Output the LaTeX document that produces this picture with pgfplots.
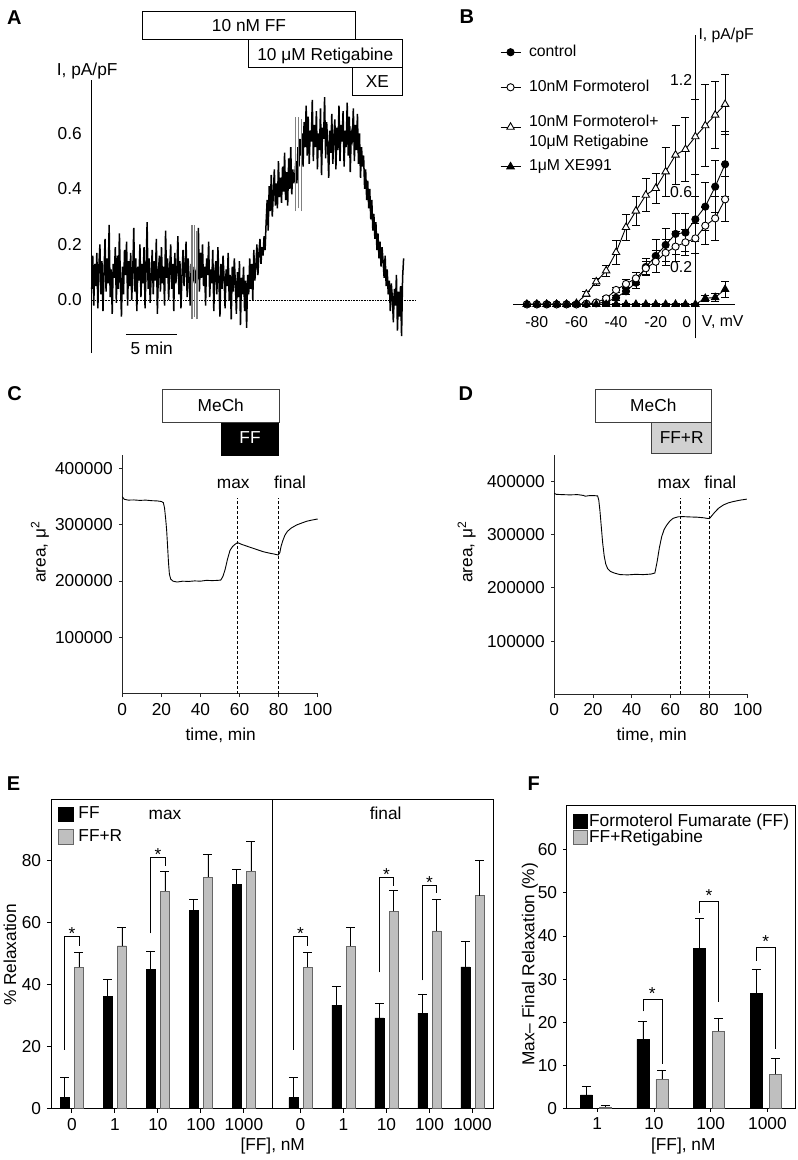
\documentclass[border=0pt]{standalone}
\usepackage{fontspec}
\setmainfont{Liberation Sans}
\usepackage{pgfplots}
\pgfplotsset{compat=1.18}

\newcommand{\fsA}{\fontsize{17.3}{20.5}\selectfont}
\newcommand{\fsB}{\fontsize{15.8}{20}\selectfont}
\newcommand{\fsL}{\fontsize{20}{24}\selectfont\bfseries}

\tikzset{bracket/.style={line width=0.9pt}}
\pgfplotsset{
  every axis/.append style={scale only axis, anchor=south west, clip=false,
    /pgf/number format/assume math mode=true},
  ebar/.style={error bars/y dir=plus, error bars/y explicit,
    error bars/error bar style={line width=0.9pt, black},
    error bars/error mark options={rotate=90, line width=0.9pt, black, mark size=4.5pt}},
  sqlegend/.style={legend cell align=left,
    legend style={draw=none, fill=none, inner sep=0pt, nodes={inner sep=0pt}, anchor=north west},
    legend image code/.code={\draw[##1, line width=0.8pt] (0pt,-7.2pt) rectangle (15pt,7.2pt); \path (#1,0pt);}},
}

\begin{document}
\fsA
\begin{tikzpicture}
\useasboundingbox (0pt,0pt) rectangle (798pt,-1160pt);

% ================= A =================
\node[anchor=base west, inner sep=0pt, font=\fsL] at (7pt,-24pt) {A};
\draw[line width=0.8pt] (142.7pt,-11pt) rectangle (355.3pt,-39pt);
\draw[line width=0.8pt] (248.3pt,-39pt) rectangle (402.3pt,-67.3pt);
\draw[line width=0.8pt] (352.3pt,-67.3pt) rectangle (402.3pt,-95pt);
\node[anchor=base] at (249pt,-31.7pt) {10 nM FF};
\node[anchor=base] at (325.3pt,-60pt) {10 μM Retigabine};
\node[anchor=base] at (377.3pt,-87.3pt) {XE};
\node[anchor=base west, inner sep=0pt] at (56.7pt,-75.4pt) {I, pA/pF};
\node[anchor=base, inner sep=0pt] at (151.7pt,-354pt) {5 min};

\begin{axis}[at={(91.7pt,-353pt)}, width=323.3pt, height=273pt,
  xmin=0, xmax=31.51, ymin=-0.1908, ymax=0.7919,
  axis x line=none, axis y line*=left, axis line style={line width=0.8pt},
  ytick={0,0.2,0.4,0.6}, major tick length=0pt,
  yticklabel style={xshift=-4pt, /pgf/number format/fixed, /pgf/number format/fixed zerofill,
    /pgf/number format/precision=1}]
\addplot[black, densely dotted, line width=0.6pt] coordinates {(0,0) (31.51,0)};
\addplot[black, line width=1.5pt] table[row sep=\\, header=false, x expr=\coordindex*0.1, y index=0] {
0.04\\0.16\\-0.02\\0.13\\0.05\\0.17\\-0.03\\0.12\\0.20\\0.02\\
0.14\\-0.04\\0.10\\0.22\\0.03\\0.15\\0.06\\0.27\\0.01\\0.11\\
-0.05\\0.13\\0.08\\0.19\\-0.01\\0.16\\0.04\\0.24\\0.07\\-0.06\\
0.12\\0.02\\0.18\\0.09\\0.21\\-0.02\\0.14\\0.05\\0.17\\0.00\\
0.10\\0.26\\0.03\\0.15\\-0.04\\0.12\\0.07\\0.20\\0.01\\0.13\\
0.06\\0.19\\-0.03\\0.11\\0.28\\0.04\\0.15\\-0.01\\0.09\\0.18\\
0.02\\0.14\\0.07\\0.22\\-0.05\\0.10\\0.16\\0.03\\0.19\\0.06\\
0.12\\-0.02\\0.25\\0.08\\0.15\\0.00\\0.11\\0.20\\0.04\\0.13\\
-0.04\\0.17\\0.06\\0.10\\0.23\\0.02\\0.14\\-0.03\\0.09\\0.18\\
0.05\\0.12\\0.21\\0.01\\0.15\\0.07\\-0.02\\0.13\\0.10\\0.08\\
0.12\\0.06\\0.10\\0.09\\0.26\\0.03\\0.17\\0.08\\0.20\\0.05\\
0.12\\-0.02\\0.15\\0.09\\0.21\\0.01\\0.11\\0.06\\0.18\\-0.04\\
0.10\\0.14\\0.02\\0.19\\0.07\\-0.06\\0.13\\0.04\\0.16\\0.08\\
-0.03\\0.11\\0.05\\0.17\\0.00\\0.09\\-0.07\\0.12\\0.03\\0.15\\
0.06\\-0.05\\0.10\\0.01\\0.14\\-0.09\\0.08\\0.02\\0.12\\-0.04\\
0.07\\-0.10\\0.09\\0.02\\0.15\\0.04\\0.13\\0.00\\0.18\\0.07\\
0.12\\0.20\\0.09\\0.17\\0.22\\0.13\\0.19\\0.16\\0.23\\0.18\\
0.28\\0.36\\0.25\\0.41\\0.32\\0.45\\0.30\\0.38\\0.47\\0.34\\
0.42\\0.33\\0.50\\0.37\\0.44\\0.35\\0.48\\0.39\\0.53\\0.36\\
0.46\\0.34\\0.51\\0.40\\0.55\\0.38\\0.47\\0.42\\0.45\\0.50\\
0.42\\0.55\\0.48\\0.58\\0.52\\0.60\\0.48\\0.64\\0.55\\0.70\\
0.52\\0.66\\0.49\\0.61\\0.57\\0.72\\0.50\\0.63\\0.55\\0.68\\
0.47\\0.60\\0.54\\0.69\\0.45\\0.62\\0.58\\0.73\\0.51\\0.64\\
0.56\\0.44\\0.61\\0.53\\0.67\\0.49\\0.59\\0.65\\0.47\\0.62\\
0.54\\0.70\\0.50\\0.63\\0.57\\0.68\\0.48\\0.61\\0.55\\0.71\\
0.52\\0.66\\0.46\\0.60\\0.58\\0.69\\0.50\\0.63\\0.54\\0.67\\
0.49\\0.60\\0.44\\0.55\\0.48\\0.52\\0.40\\0.47\\0.36\\0.43\\
0.33\\0.40\\0.29\\0.36\\0.25\\0.31\\0.22\\0.28\\0.18\\0.24\\
0.15\\0.21\\0.12\\0.19\\0.14\\0.08\\0.16\\0.05\\0.11\\0.02\\
0.07\\-0.04\\0.06\\0.01\\-0.08\\0.04\\-0.02\\0.09\\-0.11\\0.03\\
-0.06\\0.05\\-0.13\\0.08\\0.15\\
};
% grey artefact marks
\addplot[black!50, line width=1.3pt] coordinates {(9.78,-0.07) (9.78,0.27)};
\addplot[black!50, line width=1.3pt] coordinates {(10.02,-0.06) (10.02,0.27)};
\addplot[black!50, line width=1.3pt] coordinates {(10.27,-0.07) (10.27,0.25)};
\addplot[black!50, line width=1.3pt] coordinates {(19.86,0.32) (19.86,0.66)};
\addplot[black!50, line width=1.3pt] coordinates {(20.15,0.33) (20.15,0.66)};
\addplot[black!50, line width=1.3pt] coordinates {(20.45,0.32) (20.45,0.65)};
\draw[line width=1pt] (axis cs:3.34,-0.1235) -- (axis cs:8.34,-0.1235);
\end{axis}

% ================= B =================
\node[anchor=base west, inner sep=0pt, font=\fsL] at (459.3pt,-23.3pt) {B};
\node[anchor=base west, inner sep=0pt, font=\fsB] at (698.3pt,-39.6pt) {I, pA/pF};
\node[anchor=base west, inner sep=0pt, font=\fsB] at (701.7pt,-326.3pt) {V, mV};
\begin{axis}[at={(513pt,-338.3pt)}, width=222pt, height=303.3pt,
  xmin=-92, xmax=20, ymin=-0.182, ymax=1.442,
  axis lines*=middle, axis line style={line width=0.9pt},
  hide obscured x ticks=false, hide obscured y ticks=false,
  xtick={-80,-60,-40,-20}, extra x ticks={0},
  extra x tick style={xticklabel style={xshift=-8.5pt}},
  ytick={0.2,0.6,1.2}, major tick length=0pt,
  tick label style={font=\fsB},
  xticklabel style={yshift=-6pt},
  yticklabel style={xshift=2.7pt, /pgf/number format/fixed, /pgf/number format/precision=1},
  legend style={at={(axis description cs:-0.059,0.967)}, anchor=north west,
    draw=none, fill=none, inner sep=0pt, row sep=21pt, font=\fsB, nodes={inner sep=0pt}},
  legend cell align=left,
  legend image code/.code={\draw[mark repeat=2,mark phase=2,#1] plot coordinates {(0pt,0pt) (10pt,0pt) (20pt,0pt)}; \path (28pt,0pt);},
  every axis plot/.append style={black, line width=0.9pt,
    error bars/y dir=both, error bars/y explicit,
    error bars/error mark options={rotate=90, line width=0.9pt, black, mark size=4pt}}]
\addplot[mark=*, mark size=3.6pt] coordinates {
(-85,0) +- (0,0.005) (-80,0) +- (0,0.006) (-75,0) +- (0,0.012) (-70,0) +- (0,0.006)
(-65,0) +- (0,0.005) (-60,0) +- (0,0.005) (-55,0.002) +- (0,0.005) (-50,0.005) +- (0,0.006)
(-45,0.012) +- (0,0.008) (-40,0.035) +- (0,0.012) (-35,0.07) +- (0,0.018) (-30,0.116) +- (0,0.03)
(-25,0.2) +- (0,0.045) (-20,0.259) +- (0,0.09) (-15,0.318) +- (0,0.09) (-10,0.377) +- (0,0.11)
(-5,0.384) +- (0,0.1) (0,0.455) +- (0,0.12) (5,0.523) +- (0,0.128) (10,0.63) +- (0,0.14)
(15,0.75) +- (0,0.175)};
\addlegendentry{control}
\addplot[mark=*, mark size=3.6pt, mark options={fill=white}] coordinates {
(-85,0) +- (0,0.004) (-80,0) +- (0,0.004) (-75,0) +- (0,0.004) (-70,0) +- (0,0.004)
(-65,0) +- (0,0.004) (-60,0) +- (0,0.004) (-55,0.003) +- (0,0.005) (-50,0.01) +- (0,0.006)
(-45,0.032) +- (0,0.01) (-40,0.077) +- (0,0.015) (-35,0.109) +- (0,0.025) (-30,0.139) +- (0,0.03)
(-25,0.193) +- (0,0.035) (-20,0.228) +- (0,0.06) (-15,0.276) +- (0,0.07) (-10,0.309) +- (0,0.08)
(-5,0.332) +- (0,0.07) (0,0.353) +- (0,0.08) (5,0.421) +- (0,0.1) (10,0.46) +- (0,0.12)
(15,0.562) +- (0,0.12)};
\addlegendentry{10nM Formoterol}
\addplot[mark=triangle*, mark size=4.3pt, mark options={fill=white}] coordinates {
(-85,0) +- (0,0.004) (-80,0) +- (0,0.004) (-75,0) +- (0,0.004) (-70,0) +- (0,0.004)
(-65,0) +- (0,0.004) (-60,0.005) +- (0,0.006) (-55,0.055) +- (0,0.012) (-50,0.121) +- (0,0.02)
(-45,0.18) +- (0,0.03) (-40,0.278) +- (0,0.065) (-35,0.412) +- (0,0.07) (-30,0.5) +- (0,0.08)
(-25,0.585) +- (0,0.09) (-20,0.621) +- (0,0.08) (-15,0.71) +- (0,0.13) (-10,0.8) +- (0,0.16)
(-5,0.83) +- (0,0.17) (0,0.898) +- (0,0.2) (5,0.957) +- (0,0.22) (10,1.014) +- (0,0.18)
(15,1.071) +- (0,0.16)};
\addlegendentry{\parbox[c]{140pt}{\fsB\raggedright 10nM Formoterol+\\10μM Retigabine}}
\addplot[mark=triangle*, mark size=4.3pt] coordinates {
(-85,0) +- (0,0.004) (-80,0) +- (0,0.004) (-75,0) +- (0,0.004) (-70,0) +- (0,0.004)
(-65,0) +- (0,0.004) (-60,0) +- (0,0.004) (-55,0) +- (0,0.004) (-50,0) +- (0,0.004)
(-45,0) +- (0,0.004) (-40,0) +- (0,0.004) (-35,0) +- (0,0.004) (-30,0) +- (0,0.004)
(-25,0) +- (0,0.004) (-20,0) +- (0,0.004) (-15,0) +- (0,0.004) (-10,0) +- (0,0.004)
(-5,0) +- (0,0.004) (0,0) +- (0,0.004) (5,0.032) +- (0,0.015) (10,0.037) +- (0,0.02)
(15,0.08) +- (0,0.045)};
\addlegendentry{1μM XE991}
\end{axis}

% ================= C =================
\node[anchor=base west, inner sep=0pt, font=\fsL] at (7.3pt,-400pt) {C};
\draw[line width=0.8pt, black!75] (162.3pt,-389pt) rectangle (279.3pt,-422.7pt);
\fill[black] (220.7pt,-422.7pt) rectangle (279.3pt,-455.7pt);
\node[anchor=base] at (220.8pt,-411pt) {MeCh};
\node[anchor=base, text=white] at (250pt,-443.3pt) {FF};
\node[anchor=base] at (233.3pt,-488.3pt) {max};
\node[anchor=base] at (290pt,-488.3pt) {final};
\node[rotate=90] at (40pt,-552pt) {area, μ\textsuperscript{2}};
\node[anchor=base] at (220.7pt,-740pt) {time, min};
\begin{axis}[at={(122.3pt,-693.5pt)}, width=195.4pt, height=238.5pt,
  xmin=0, xmax=100, ymin=0, ymax=423600,
  axis x line*=bottom, axis y line*=left,
  axis line style={line width=0.8pt, black!85}, tick style={line width=0.8pt, black!85},
  tick align=outside, major tick length=3.5pt,
  xtick={0,20,...,100}, ytick={100000,200000,300000,400000}, scaled y ticks=false,
  yticklabel style={/pgf/number format/fixed, /pgf/number format/1000 sep={}}]
\addplot[black, line width=0.9pt] coordinates {
(0,349600) (1,345000) (3,343500) (6,343800) (9,343000) (12,343500) (15,342500) (18,342000)
(20,341000) (21,339000) (21.6,330000) (22.2,310000) (22.7,290000) (23.2,260000) (23.6,235000)
(24.1,212000) (24.8,203000) (26,199500) (28,198000) (31,199500) (34,199000) (37,200000)
(40,199500) (43,201000) (46,200500) (49,201000) (50.4,201500) (51.5,208000) (52.6,220000)
(53.8,238000) (55.1,254000) (56.4,261000) (57.7,265000) (59,268000) (61,265000) (63.5,262000)
(66,259000) (69,255500) (72,252000) (75,249500) (78,247500) (79.8,246000) (80.6,250000)
(81.3,262000) (82.2,272000) (83.2,281000) (84.5,288000) (86.5,294000) (89.3,299500)
(92,303000) (94.4,306000) (97,308000) (100,310000)};
\addplot[black, line width=0.7pt, dash pattern=on 3pt off 2pt] coordinates {(58.7,0) (58.7,346700)};
\addplot[black, line width=0.7pt, dash pattern=on 3pt off 2pt] coordinates {(80,0) (80,346700)};
\end{axis}

% ================= D =================
\node[anchor=base west, inner sep=0pt, font=\fsL] at (458.3pt,-400pt) {D};
\draw[line width=0.8pt, black!75] (595pt,-389.3pt) rectangle (711.7pt,-422.3pt);
\draw[line width=0.8pt, black!75, fill=black!18] (651.7pt,-422.3pt) rectangle (711.7pt,-453.3pt);
\node[anchor=base] at (653.3pt,-411pt) {MeCh};
\node[anchor=base] at (681.7pt,-443pt) {FF+R};
\node[anchor=base] at (674pt,-488.3pt) {max};
\node[anchor=base] at (720.3pt,-488.3pt) {final};
\node[rotate=90] at (466.7pt,-552pt) {area, μ\textsuperscript{2}};
\node[anchor=base] at (651.7pt,-740pt) {time, min};
\begin{axis}[at={(554.3pt,-694.2pt)}, width=193.4pt, height=239.2pt,
  xmin=0, xmax=100, ymin=0, ymax=450000,
  axis x line*=bottom, axis y line*=left,
  axis line style={line width=0.8pt, black!85}, tick style={line width=0.8pt, black!85},
  tick align=outside, major tick length=3.5pt,
  xtick={0,20,...,100}, ytick={100000,200000,300000,400000}, scaled y ticks=false,
  yticklabel style={/pgf/number format/fixed, /pgf/number format/1000 sep={}}]
\addplot[black, line width=0.9pt] coordinates {
(0,378000) (1,376000) (4,375500) (8,375000) (12,375500) (15,374000) (16,372500) (18,373500)
(21,373500) (22.4,373000) (23.0,365000) (23.6,345000) (24.3,315000) (25,285000) (25.8,260000)
(26.6,245000) (27.6,236000) (29,231000) (31,228000) (34,225000) (38,224500) (42,225500)
(46,225000) (50,226000) (52,228000) (53.2,250000) (54.3,275000) (55.5,296000) (56.8,310000)
(58.1,318000) (59.8,326000) (61.5,331000) (64.2,333900) (67,334000) (70,333500) (74,333000)
(77,332000) (79.5,330500) (80.5,331500) (81.5,336000) (83.1,343000) (85,350000) (87.4,356000)
(90,360000) (92.6,362500) (96,365000) (99.5,367000)};
\addplot[black, line width=0.7pt, dash pattern=on 3pt off 2pt] coordinates {(65,0) (65,368600)};
\addplot[black, line width=0.7pt, dash pattern=on 3pt off 2pt] coordinates {(80,0) (80,368600)};
\end{axis}

% ================= E =================
\node[anchor=base west, inner sep=0pt, font=\fsL] at (6.7pt,-790pt) {E};
\node[anchor=base] at (165pt,-819pt) {max};
\node[anchor=base] at (385.7pt,-819pt) {final};
\node[rotate=90] at (10pt,-955pt) {\% Relaxation};
\node at (272.7pt,-1146.2pt) {[FF], nM};
\begin{axis}[at={(51pt,-1108.5pt)}, width=442.3pt, height=309.5pt,
  xmin=-0.486, xmax=9.8, ymin=0, ymax=100,
  axis line style={line width=0.9pt}, tick style={line width=0.9pt, black},
  tick align=outside, major tick length=4pt, xtick pos=bottom, ytick pos=left,
  xtick={0,1,2,3,4,5.316,6.316,7.316,8.316,9.316},
  xticklabels={0,1,10,100,1000,0,1,10,100,1000},
  ytick={0,20,40,60,80},
  sqlegend=19.4pt,
  legend style={at={(axis description cs:0.0165,0.9764)}, row sep=7.4pt}]
% FF bars (left of each tick) and FF+R bars (right of each tick)
\addplot[ybar, bar width=9pt, bar shift=0pt, fill=black, draw=black, ebar] coordinates {
(-0.165,3.5) +- (0,6.5) (0.835,36.3) +- (0,5.5) (1.835,45.0) +- (0,5.9) (2.835,64.1) +- (0,3.4)
(3.835,72.5) +- (0,4.7) (5.151,3.5) +- (0,6.5) (6.151,33.4) +- (0,6.1) (7.151,29.3) +- (0,4.7)
(8.151,30.8) +- (0,6.2) (9.151,45.8) +- (0,8.1)};
\addlegendentry{FF}
\addplot[ybar, bar width=9pt, bar shift=0pt, fill=black!25, draw=black!60, ebar] coordinates {
(0.165,45.7) +- (0,4.8) (1.165,52.6) +- (0,6.0) (2.165,70.2) +- (0,6.3) (3.165,74.8) +- (0,7.2)
(4.165,76.7) +- (0,9.5) (5.481,45.7) +- (0,4.8) (6.481,52.4) +- (0,6.2) (7.481,63.7) +- (0,6.7)
(8.481,57.4) +- (0,10.0) (9.481,68.8) +- (0,11.4)};
\addlegendentry{FF+R}
\draw[line width=0.9pt] (axis cs:4.67,0) -- (axis cs:4.67,100);
% significance brackets
\draw[bracket] (axis cs:-0.165,19) -- (axis cs:-0.165,55.5) -- (axis cs:0.165,55.5) -- (axis cs:0.165,52.5);
\draw[bracket] (axis cs:1.835,56.6) -- (axis cs:1.835,81.2) -- (axis cs:2.165,81.2) -- (axis cs:2.165,78.4);
\draw[bracket] (axis cs:5.151,19) -- (axis cs:5.151,55.5) -- (axis cs:5.481,55.5) -- (axis cs:5.481,52.5);
\draw[bracket] (axis cs:7.151,44) -- (axis cs:7.151,74.7) -- (axis cs:7.481,74.7) -- (axis cs:7.481,71.9);
\draw[bracket] (axis cs:8.151,41.4) -- (axis cs:8.151,72.1) -- (axis cs:8.481,72.1) -- (axis cs:8.481,69.5);
\node[anchor=base, inner sep=0pt, yshift=-3pt] at (axis cs:0,55.5) {*};
\node[anchor=base, inner sep=0pt, yshift=-3pt] at (axis cs:2,81.2) {*};
\node[anchor=base, inner sep=0pt, yshift=-3pt] at (axis cs:5.316,55.5) {*};
\node[anchor=base, inner sep=0pt, yshift=-3pt] at (axis cs:7.316,74.7) {*};
\node[anchor=base, inner sep=0pt, yshift=-3pt] at (axis cs:8.316,72.1) {*};
\end{axis}

% ================= F =================
\node[anchor=base west, inner sep=0pt, font=\fsL] at (527.3pt,-790pt) {F};
\node[rotate=90] at (530pt,-964.4pt) {Max– Final Relaxation (\%)};
\node at (683.3pt,-1146.2pt) {[FF], nM};
\begin{axis}[at={(566.5pt,-1108.3pt)}, width=228.5pt, height=303.3pt,
  xmin=-0.543, xmax=3.487, ymin=0, ymax=70.4,
  axis line style={line width=0.9pt}, tick style={line width=0.9pt, black},
  tick align=outside, major tick length=3.5pt, xtick pos=bottom, ytick pos=left,
  xtick={0,1,2,3}, xticklabels={1,10,100,1000},
  ytick={0,10,...,60},
  sqlegend=16pt,
  legend image code/.code={\draw[#1, line width=0.8pt] (0pt,-7.2pt) rectangle (14.4pt,7.2pt); \path (16pt,0pt);},
  legend style={at={(axis description cs:0.0254,0.9717)}, row sep=0.5pt}]
\addplot[ybar, bar width=12pt, bar shift=0pt, fill=black, draw=black, ebar] coordinates {
(-0.194,3.1) +- (0,1.9) (0.806,16.0) +- (0,4.2) (1.806,37.1) +- (0,6.9) (2.806,26.7) +- (0,5.5)};
\addlegendentry{Formoterol Fumarate (FF)}
\addplot[ybar, bar width=12pt, bar shift=0pt, fill=black!25, draw=black!60, ebar] coordinates {
(0.141,0.34) +- (0,0.26) (1.141,6.7) +- (0,2.2) (2.141,17.9) +- (0,2.9) (3.141,7.9) +- (0,3.7)};
\addlegendentry{FF+Retigabine}
\draw[bracket] (axis cs:0.806,22.5) -- (axis cs:0.806,25.2) -- (axis cs:1.141,25.2) -- (axis cs:1.141,10.3);
\draw[bracket] (axis cs:1.806,45.3) -- (axis cs:1.806,48.1) -- (axis cs:2.141,48.1) -- (axis cs:2.141,24.6);
\draw[bracket] (axis cs:2.806,34.3) -- (axis cs:2.806,37.3) -- (axis cs:3.141,37.3) -- (axis cs:3.141,13.7);
\node[anchor=base, inner sep=0pt] at (axis cs:0.97,25.2) {*};
\node[anchor=base, inner sep=0pt] at (axis cs:1.97,48.1) {*};
\node[anchor=base, inner sep=0pt] at (axis cs:2.97,37.3) {*};
\end{axis}
\end{tikzpicture}
\end{document}
